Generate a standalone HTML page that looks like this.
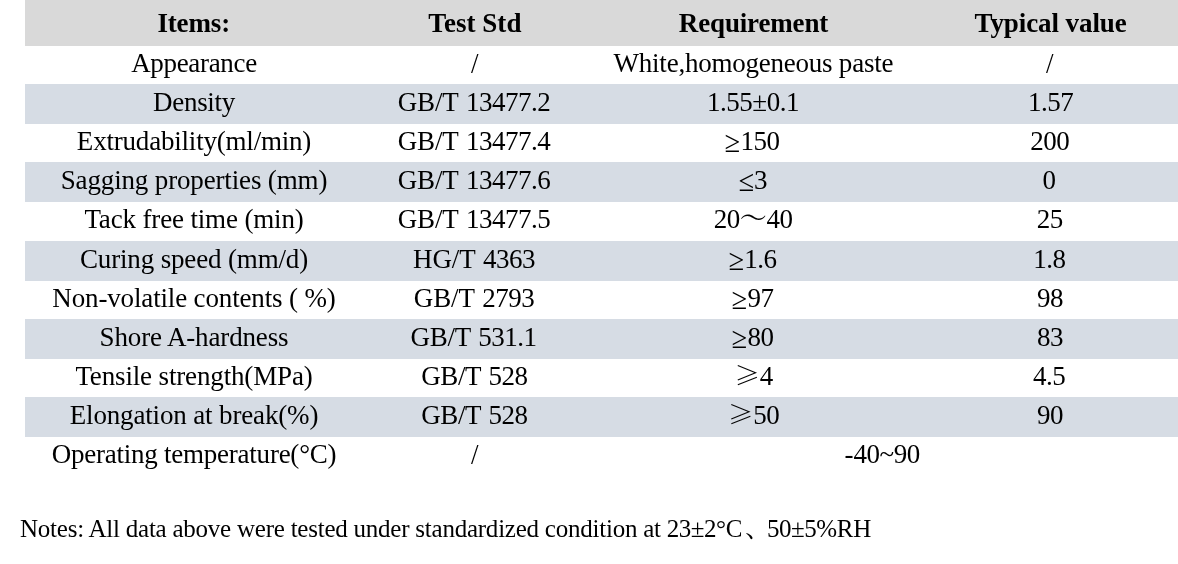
<!DOCTYPE html>
<html lang="en">
<head>
<meta charset="utf-8">
<title>Technical data sheet</title>
<style>
html,body{margin:0;padding:0;background:#fff;}
body{width:1178px;height:564px;overflow:hidden;position:relative;
  font-family:"Liberation Serif","Noto Serif CJK SC",serif;color:#000;}
table,thead,tbody,tr,th,td{display:block;margin:0;padding:0;border:0;}
table{position:absolute;left:25px;top:0;width:1153px;height:476px;}
tr{position:absolute;left:0;width:1153px;}
tr.hd{background:#d9d9d9;}
tr.bd{background:#d6dce4;}
th,td{position:absolute;width:600px;height:39px;line-height:39px;text-align:center;
  white-space:nowrap;font-size:27px;font-weight:normal;letter-spacing:-0.15px;}
th{font-weight:bold;}
.k{font-family:"Noto Serif CJK SC","Noto Sans CJK SC",serif;line-height:0;}
.k2{font-size:25.4px;margin-left:1.4px;}
.d{letter-spacing:-0.5px;}
.w{margin-left:1.3px;}
.s{display:inline-block;transform:scaleY(1.12);transform-origin:50% 28px;}
.q{display:inline-block;transform:scale(1.05,1.12);transform-origin:50% 12px;margin:0 .7px 0 -.4px;}
.notes{position:absolute;left:20px;top:509px;margin:0;font-size:25px;line-height:39px;height:39px;
  white-space:nowrap;letter-spacing:-0.235px;}
</style>
</head>
<body>
<table>
<thead>
<tr class="hd" style="top:0px;height:46px">
  <th style="left:-131.3px;top:4px;">Items:</th>
  <th style="left:149.9px;top:4px;letter-spacing:0.04px;">Test Std</th>
  <th style="left:428.5px;top:4px;">Requirement</th>
  <th style="left:725.6px;top:4px;letter-spacing:-0.09px;">Typical value</th>
</tr>
</thead>
<tbody>
<tr style="top:46px;height:38px">
  <td style="left:-131px;top:-2px;letter-spacing:-0.33px;">Appearance</td>
  <td style="left:149.8px;top:-1.5px;"><span class="s">/</span></td>
  <td style="left:428.4px;top:-2px;letter-spacing:-0.23px;">White,homogeneous paste</td>
  <td style="left:724.8px;top:-1.5px;"><span class="s">/</span></td>
</tr>
<tr class="bd" style="top:84px;height:40px">
  <td style="left:-131px;top:-1px;letter-spacing:-0.31px;">Density</td>
  <td style="left:149px;top:-1px;">GB/T <span class="d w">13477.2</span></td>
  <td style="left:428px;top:-1px;"><span class="d">1.55±0.1</span></td>
  <td style="left:725.5px;top:-1px;"><span class="d">1.57</span></td>
</tr>
<tr style="top:124px;height:38px">
  <td style="left:-131px;top:-2px;letter-spacing:-0.2px;">Extrudability(ml/min)</td>
  <td style="left:149px;top:-2px;">GB/T <span class="d w">13477.4</span></td>
  <td style="left:427.5px;top:-2px;"><span class="q">≥</span><span class="d">150</span></td>
  <td style="left:724.7px;top:-2px;"><span class="d">200</span></td>
</tr>
<tr class="bd" style="top:162px;height:40px">
  <td style="left:-131px;top:-1px;">Sagging properties (mm)</td>
  <td style="left:149px;top:-1px;">GB/T <span class="d w">13477.6</span></td>
  <td style="left:428px;top:-1px;"><span class="q">≤</span><span class="d">3</span></td>
  <td style="left:724px;top:-1px;"><span class="d">0</span></td>
</tr>
<tr style="top:202px;height:39px">
  <td style="left:-131px;top:-2px;">Tack free time (min)</td>
  <td style="left:149px;top:-2px;">GB/T <span class="d w">13477.5</span></td>
  <td style="left:428.2px;top:-2px;"><span class="d">20</span><span class="k">～</span><span class="d">40</span></td>
  <td style="left:724.7px;top:-2px;"><span class="d">25</span></td>
</tr>
<tr class="bd" style="top:241px;height:40px">
  <td style="left:-131px;top:-1px;">Curing speed (mm/d)</td>
  <td style="left:149px;top:-1px;">HG/T <span class="d w">4363</span></td>
  <td style="left:428px;top:-1px;"><span class="q">≥</span><span class="d">1.6</span></td>
  <td style="left:724.4px;top:-1px;"><span class="d">1.8</span></td>
</tr>
<tr style="top:281px;height:38px">
  <td style="left:-131px;top:-2px;">Non-volatile contents ( %)</td>
  <td style="left:149px;top:-2px;">GB/T <span class="d w">2793</span></td>
  <td style="left:428px;top:-2px;"><span class="q">≥</span><span class="d">97</span></td>
  <td style="left:725px;top:-2px;"><span class="d">98</span></td>
</tr>
<tr class="bd" style="top:319px;height:40px">
  <td style="left:-131px;top:-1px;">Shore A-hardness</td>
  <td style="left:148.6px;top:-1px;letter-spacing:-0.27px;">GB/T <span class="d w">531.1</span></td>
  <td style="left:428px;top:-1px;"><span class="q">≥</span><span class="d">80</span></td>
  <td style="left:725px;top:-1px;"><span class="d">83</span></td>
</tr>
<tr style="top:359px;height:38px">
  <td style="left:-131px;top:-2px;">Tensile strength(MPa)</td>
  <td style="left:149.35px;top:-2px;letter-spacing:-0.38px;">GB/T <span class="d w">528</span></td>
  <td style="left:428px;top:-2px;"><span class="k k2">≥</span><span class="d">4</span></td>
  <td style="left:724px;top:-2px;"><span class="d">4.5</span></td>
</tr>
<tr class="bd" style="top:397px;height:40px">
  <td style="left:-131px;top:-1px;">Elongation at break(%)</td>
  <td style="left:149.35px;top:-1px;letter-spacing:-0.38px;">GB/T <span class="d w">528</span></td>
  <td style="left:428px;top:-1px;"><span class="k k2">≥</span><span class="d">50</span></td>
  <td style="left:725px;top:-1px;"><span class="d">90</span></td>
</tr>
<tr style="top:437px;height:39px">
  <td style="left:-131px;top:-2px;letter-spacing:-0.24px;">Operating temperature(°C)</td>
  <td style="left:149.8px;top:-1.5px;"><span class="s">/</span></td>
  <td colspan="2" style="left:557.2px;top:-2px;">-<span class="d">40</span>~<span class="d">90</span></td>
</tr>
</tbody>
</table>
<p class="notes">Notes: All data above were tested under standardized condition at <span class="d">23±2</span>°C<span class="k" style="margin:0 -3px 0 3px">、</span><span class="d">50±5</span>%RH</p>
</body>
</html>
